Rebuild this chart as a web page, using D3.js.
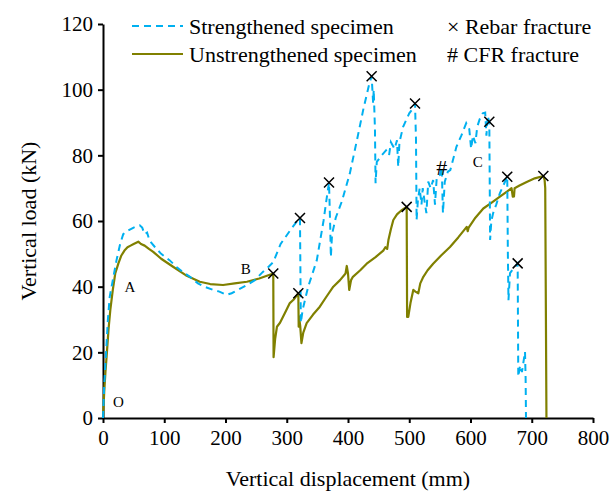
<!DOCTYPE html>
<html><head><meta charset="utf-8">
<script src="https://cdn.jsdelivr.net/npm/d3@7"></script>
<style>body{margin:0;background:#fff}svg{display:block}text{font-family:"Liberation Serif","Times New Roman",serif;fill:#000}</style>
</head><body><svg id="c" width="611" height="491"></svg>
<script>
const xTicks=[0,100,200,300,400,500,600,700,800];
const yTicks=[0,20,40,60,80,100,120];
const strengthened=[[0,0],[2,10],[5,20],[8,30],[11,37],[16,42],[22,48],[28,53],[33,56],[40,57],[50,58],[56,58.5],[60,58.7],[64,58],[68,56],[72,56.5],[76,54],[85,52],[95,50],[109,48],[120,46],[130,44.5],[142,43],[155,41],[165,40],[180,39],[190,38.5],[202,37.5],[210,38],[220,39],[235,40.5],[248,42],[261,44.5],[270,46],[278,47.5],[290,53],[305,57],[315,59.5],[321.6,60.9],[323,29],[326,33],[335,40],[349,48],[360,60],[366,68],[369,71.7],[371,58],[372,49],[374,56],[380,61],[390,66],[403,74.5],[415,85],[425,94],[435,102],[438.6,104.1],[441,96],[442,100],[444,88],[445,71.5],[447,78],[455,80],[462,81.5],[467,80],[470,84],[476,82],[480,84.6],[482,76.5],[484,84],[490,88.7],[500,92.8],[505,94],[509.4,95.8],[511,85],[512,60.3],[514,66],[517,70],[520,65],[522,70],[525,66],[528,62.4],[531,72],[535,70],[539,72.5],[542,65],[545,73.5],[550,74],[553,76.5],[555,62.4],[558,72],[563,75],[567,75.5],[572,79],[577,82.6],[585,86],[593,89.8],[598,88],[601,82],[604,86],[608,83.7],[611,88.7],[615,91],[620,92.8],[624,93],[626,86],[628,92],[630.7,90.2],[632,54.2],[634,60],[637,62.4],[642,65],[648,68.5],[654,71],[660,73.5],[661,50],[662,35.9],[664.5,44.1],[670,45.5],[677,47.1],[678,12.6],[681,16],[684,14],[689,20.2],[690,12],[690.6,0]];
const unstrengthened=[[0,0],[2,8],[4,14],[6,19],[9,27],[12,33],[16,39],[20,44],[25,47],[30,49.5],[35,51],[40,52],[45,52.5],[50,53],[57.6,53.7],[62,53],[68,52.5],[75,51.5],[82,50.6],[95,48.5],[115,46],[135,43.5],[158,41.5],[175,40.8],[196,40.5],[215,41],[235,41.5],[255,42.5],[270,43.5],[278,44],[278.5,18.5],[281,24],[284,27.8],[289,29],[297,32],[305,35],[311,36],[318.9,38],[319.5,27.8],[320,31],[322,28],[324,22.8],[327,26],[332.5,28.9],[343,31.5],[354,33.9],[365,37],[376,40],[387,42],[396,44],[398,46.3],[400,44],[402,39],[405,42],[408,43],[420,45],[430.5,47],[445,49],[457.6,51],[461,52],[464,51.5],[466,54.2],[470,57.5],[474,60.3],[480,62],[487,63.2],[495.8,64.3],[496.5,30.8],[498.4,30.8],[502,35],[506.6,39],[510,38.5],[514.8,38],[518,41],[523,43],[530,45],[539,47],[552,49.5],[566.5,52.1],[580,55],[593.8,58.2],[595.5,56.9],[597,58],[608,61],[620.9,63.8],[634,65.5],[648,67.4],[660,69],[667,70],[669,67.4],[671,67.5],[672,70],[680,70.8],[691.7,71.9],[705,73],[718.9,73.7],[721,72.5],[722,70],[724,0]];
const rebarFractures=[[321.6,60.9],[369,71.7],[438.6,104.1],[509.4,95.8],[630.7,90.2],[660,73.5],[677,47.1],[278,44],[318.9,38],[495.8,64.3],[718.9,73.7]];
const cfrFractures=[[553,76.5]];
const pointLabels=[["A",44,40],["B",233,45.5],["C",612,78],["O",25,5]];
const legendItems=["Strengthened specimen","Unstrengthened specimen"];
const markerLegend=["\u00d7 Rebar fracture","# CFR fracture"];

const svg=d3.select("#c");
const L=103,R=593,T=24,B=418;
const x=d3.scaleLinear().domain([0,800]).range([L,R]);
const y=d3.scaleLinear().domain([0,120]).range([B,T]);
const blue="#00B0F0", olive="#808000";

const xa=svg.append("g").attr("transform",`translate(0,${B})`).call(d3.axisBottom(x).tickValues(xTicks).tickSize(5).tickSizeOuter(0));
const ya=svg.append("g").attr("transform",`translate(${L},0)`).call(d3.axisLeft(y).tickValues(yTicks).tickSize(5).tickSizeOuter(0));
[xa,ya].forEach(g=>{g.selectAll("path,line").attr("stroke","#000").attr("stroke-width",2);g.selectAll("text").style("font-size","21px").attr("fill","#000");});
xa.selectAll("text").attr("dy","0.9em");
ya.selectAll("text").attr("dx","-0.1em");

const line=d3.line().x(d=>x(d[0])).y(d=>y(d[1]));
svg.append("path").datum(unstrengthened).attr("d",line).attr("fill","none").attr("stroke",olive).attr("stroke-width",2.2).attr("stroke-linejoin","round");
svg.append("path").datum(strengthened).attr("d",line).attr("fill","none").attr("stroke",blue).attr("stroke-width",2).attr("stroke-dasharray","7,5");

const s=5;
svg.append("g").selectAll("path").data(rebarFractures).join("path")
 .attr("d",d=>`M${x(d[0])-s},${y(d[1])-s}L${x(d[0])+s},${y(d[1])+s}M${x(d[0])-s},${y(d[1])+s}L${x(d[0])+s},${y(d[1])-s}`)
 .attr("stroke","#000").attr("stroke-width",1.5);
svg.append("g").selectAll("text").data(cfrFractures).join("text")
 .attr("x",d=>x(d[0])).attr("y",d=>y(d[1])).attr("dy","0.35em").attr("text-anchor","middle").style("font-size","22px").text("#");
svg.append("g").selectAll("text").data(pointLabels).join("text")
 .attr("x",d=>x(d[1])).attr("y",d=>y(d[2])).attr("dy","0.35em").attr("text-anchor","middle").style("font-size","15px").text(d=>d[0]);

// legend
const lg=svg.append("g");
[[blue,"7,5",2],[olive,null,2.2]].forEach((st,i)=>{
 const yy=26+i*28;
 lg.append("line").attr("x1",132).attr("x2",183).attr("y1",yy).attr("y2",yy).attr("stroke",st[0]).attr("stroke-width",st[2]).attr("stroke-dasharray",st[1]);
 lg.append("text").attr("x",189).attr("y",yy).attr("dy","0.35em").style("font-size","22px").text(legendItems[i]);
 lg.append("text").attr("x",447).attr("y",yy).attr("dy","0.35em").style("font-size","22px").text(markerLegend[i]);
});

svg.append("text").attr("x",(L+R)/2).attr("y",478).attr("dy","0.35em").attr("text-anchor","middle").style("font-size","22px").text("Vertical displacement (mm)");
svg.append("text").attr("transform","translate(28,221) rotate(-90)").attr("dy","0.35em").attr("text-anchor","middle").style("font-size","22px").text("Vertical load (kN)");
</script></body></html>
